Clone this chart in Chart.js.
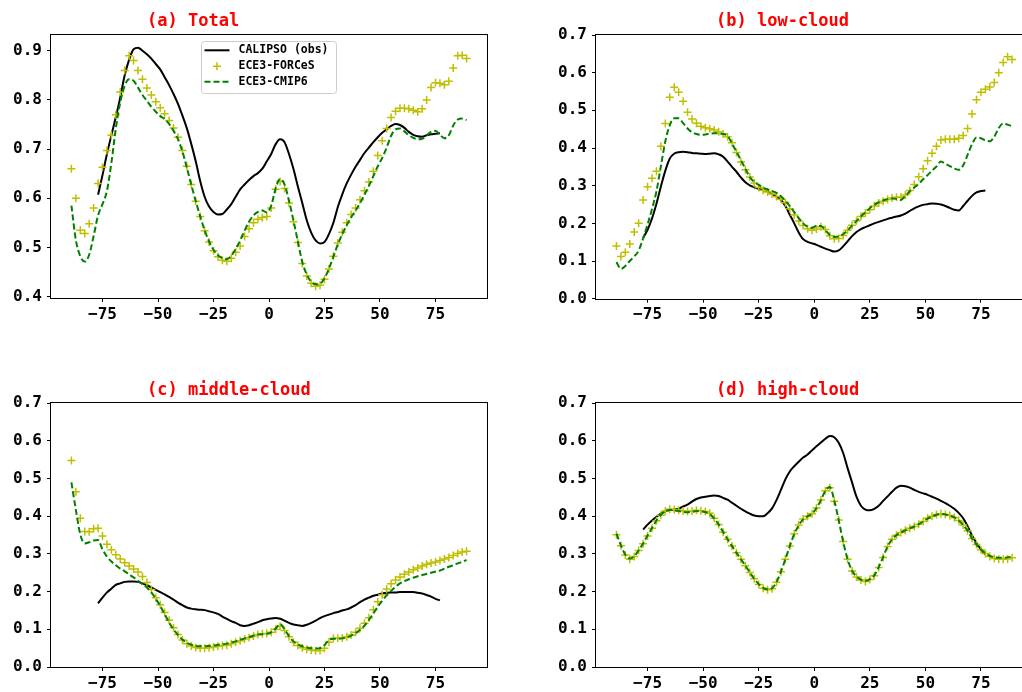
<!DOCTYPE html>
<html>
<head>
<meta charset="utf-8">
<script src="https://cdn.jsdelivr.net/npm/chart.js@4.4.1/dist/chart.umd.min.js"></script>
<style>
html, body { margin:0; padding:0; overflow:hidden; background:#fff; width:1022px; height:692px; }
canvas { position:absolute; }
</style>
</head>
<body>
<canvas id="chartA" width="511" height="345" style="left:0px;top:0px"></canvas>
<canvas id="chartB" width="540" height="345" style="left:511px;top:0px"></canvas>
<canvas id="chartC" width="511" height="345" style="left:0px;top:368px"></canvas>
<canvas id="chartD" width="540" height="345" style="left:511px;top:368px"></canvas>
<script>
// latitude grids
const latMod = [
-89,-87,-85,-83,-81,-79,-77,-75,-73,-71,
-69,-67,-65,-63,-61,-59,-57,-55,-53,-51,
-49,-47,-45,-43,-41,-39,-37,-35,-33,-31,
-29,-27,-25,-23,-21,-19,-17,-15,-13,-11,
-9,-7,-5,-3,-1,1,3,5,7,9,
11,13,15,17,19,21,23,25,27,29,
31,33,35,37,39,41,43,45,47,49,
51,53,55,57,59,61,63,65,67,69,
71,73,75,77,79,81,83,85,87,89];
const latObs = [
-77,-75,-73,-71,-69,-67,-65,-63,-61,-59,
-57,-55,-53,-51,-49,-47,-45,-43,-41,-39,
-37,-35,-33,-31,-29,-27,-25,-23,-21,-19,
-17,-15,-13,-11,-9,-7,-5,-3,-1,1,
3,5,7,9,11,13,15,17,19,21,
23,25,27,29,31,33,35,37,39,41,
43,45,47,49,51,53,55,57,59,61,
63,65,67,69,71,73,75,77];

const xTicks = [-75,-50,-25,0,25,50,75];
const yTicksTot = [0.4,0.5,0.6,0.7,0.8,0.9];
const yTicksFrac = [0.0,0.1,0.2,0.3,0.4,0.5,0.6,0.7];
const seriesNames = ['CALIPSO (obs)','ECE3-FORCeS','ECE3-CMIP6'];
const titles = ['(a) Total','(b) low-cloud','(c) middle-cloud','(d) high-cloud'];

// (a) total
const totObs = [
.607,.647,.690,.728,.765,.805,.850,.882,.903,.906,
.900,.893,.884,.873,.862,.846,.830,.812,.792,.768,
.742,.710,.675,.635,.603,.583,.572,.567,.568,.577,
.588,.603,.618,.628,.637,.645,.651,.660,.675,.690,
.710,.720,.714,.690,.660,.624,.590,.555,.530,.514,
.508,.511,.527,.550,.582,.608,.630,.648,.664,.678,
.692,.703,.714,.724,.733,.740,.747,.751,.749,.743,
.735,.729,.726,.725,.728,.730,.731,.732];
const totForces = [
.660,.600,.535,.528,.548,.580,.630,.663,.697,.728,
.770,.816,.860,.890,.880,.860,.842,.824,.810,.796,
.784,.772,.758,.743,.724,.697,.665,.628,.594,.563,
.534,.511,.493,.481,.474,.472,.478,.490,.503,.522,
.538,.550,.557,.561,.563,.580,.618,.634,.620,.590,
.552,.510,.467,.442,.427,.421,.423,.435,.456,.482,
.509,.531,.550,.567,.580,.597,.615,.633,.655,.687,
.717,.742,.764,.777,.783,.783,.782,.779,.776,.782,
.800,.825,.835,.834,.831,.838,.865,.890,.891,.884];
const totCmip6 = [
.585,.515,.482,.471,.485,.523,.565,.588,.615,.672,
.742,.795,.829,.842,.839,.825,.810,.798,.786,.776,
.767,.761,.751,.737,.720,.695,.662,.627,.594,.563,
.535,.512,.495,.484,.478,.476,.483,.497,.514,.534,
.552,.565,.572,.575,.571,.585,.620,.639,.628,.595,
.555,.512,.470,.445,.430,.425,.426,.437,.457,.481,
.506,.527,.545,.561,.575,.590,.607,.625,.645,.665,
.682,.703,.727,.740,.742,.736,.728,.723,.720,.721,
.728,.735,.737,.729,.722,.728,.748,.760,.762,.759];

// (b) low cloud
const lowObs = [
.162,.183,.213,.252,.298,.340,.372,.385,.389,.390,
.389,.387,.386,.385,.384,.385,.386,.383,.377,.364,
.350,.337,.322,.309,.301,.296,.292,.288,.285,.278,
.271,.262,.246,.223,.200,.176,.158,.151,.147,.143,
.138,.133,.129,.125,.128,.139,.152,.166,.177,.185,
.190,.195,.200,.204,.208,.212,.215,.218,.221,.226,
.233,.240,.245,.249,.251,.253,.252,.250,.246,.241,
.236,.234,.246,.260,.273,.282,.286,.287];
const lowForces = [
.140,.112,.123,.145,.177,.200,.262,.297,.320,.338,
.405,.465,.535,.561,.548,.524,.495,.477,.466,.458,
.454,.451,.448,.443,.437,.430,.414,.388,.363,.342,
.323,.307,.295,.288,.283,.278,.271,.264,.255,.239,
.222,.206,.194,.186,.182,.185,.191,.184,.167,.159,
.160,.168,.182,.195,.207,.218,.227,.236,.246,.254,
.259,.263,.267,.269,.270,.275,.287,.303,.324,.345,
.366,.386,.405,.421,.423,.423,.423,.426,.433,.452,
.490,.528,.548,.556,.562,.574,.600,.627,.642,.635];
const lowCmip6 = [
.097,.079,.087,.100,.112,.128,.160,.197,.238,.285,
.352,.418,.461,.479,.479,.466,.452,.442,.437,.435,
.436,.438,.439,.439,.437,.432,.412,.390,.368,.345,
.323,.310,.302,.295,.290,.286,.281,.272,.260,.246,
.230,.214,.200,.191,.188,.193,.193,.182,.169,.164,
.165,.171,.181,.194,.206,.218,.229,.240,.249,.256,
.261,.264,.266,.265,.262,.273,.285,.295,.305,.317,
.328,.340,.351,.364,.358,.352,.346,.342,.354,.382,
.410,.428,.426,.420,.418,.430,.453,.465,.462,.458];

// (c) middle cloud
const midObs = [
.169,.184,.198,.208,.218,.222,.226,.227,.227,.226,
.222,.217,.211,.205,.199,.193,.186,.179,.171,.164,
.158,.155,.153,.152,.151,.148,.145,.141,.134,.128,
.122,.117,.111,.109,.111,.115,.119,.124,.127,.129,
.130,.128,.123,.117,.113,.111,.109,.112,.117,.123,
.130,.135,.139,.143,.146,.150,.153,.158,.164,.172,
.179,.184,.189,.192,.195,.197,.198,.198,.199,.199,
.199,.199,.197,.195,.191,.187,.181,.177];
const midForces = [
.548,.465,.395,.360,.359,.367,.368,.348,.326,.311,
.298,.287,.277,.268,.260,.252,.240,.224,.206,.184,
.165,.145,.124,.104,.086,.072,.062,.056,.052,.050,
.050,.051,.053,.055,.057,.058,.062,.066,.070,.074,
.078,.082,.086,.088,.089,.092,.100,.108,.097,.080,
.066,.057,.051,.047,.045,.043,.044,.050,.066,.076,
.076,.077,.080,.085,.092,.103,.116,.131,.152,.173,
.192,.207,.221,.231,.239,.246,.252,.258,.263,.268,
.273,.276,.279,.283,.287,.291,.296,.301,.305,.307];
const midCmip6 = [
.490,.417,.352,.328,.331,.336,.337,.312,.293,.280,
.270,.261,.254,.246,.238,.229,.220,.211,.198,.181,
.162,.140,.118,.100,.085,.073,.064,.059,.056,.055,
.055,.056,.057,.059,.060,.062,.065,.068,.072,.076,
.079,.083,.086,.087,.088,.092,.102,.114,.100,.082,
.068,.060,.055,.052,.050,.049,.050,.058,.072,.075,
.075,.076,.078,.083,.090,.099,.110,.125,.142,.160,
.176,.190,.202,.213,.222,.228,.233,.237,.241,.244,
.247,.250,.253,.256,.261,.266,.270,.275,.279,.284];

// (d) high cloud
const highObs = [
.365,.378,.389,.399,.407,.413,.417,.418,.420,.426,
.431,.439,.446,.450,.452,.454,.455,.454,.449,.444,
.436,.428,.420,.413,.407,.402,.400,.400,.408,.421,
.443,.470,.498,.519,.533,.545,.556,.564,.575,.586,
.596,.606,.613,.610,.595,.568,.528,.490,.452,.428,
.418,.416,.420,.428,.441,.453,.465,.476,.481,.480,
.476,.470,.465,.461,.457,.452,.447,.441,.435,.428,
.420,.409,.395,.374,.349,.329,.312,.299];
const highForces = [
.351,.322,.297,.286,.293,.309,.327,.348,.368,.388,
.403,.414,.419,.418,.416,.414,.413,.414,.416,.415,
.413,.408,.395,.378,.358,.339,.321,.303,.286,.269,
.251,.234,.219,.209,.205,.208,.225,.253,.286,.321,
.354,.377,.393,.400,.407,.422,.443,.468,.476,.440,
.390,.333,.286,.255,.239,.231,.227,.232,.242,.264,
.291,.320,.339,.350,.357,.363,.368,.373,.379,.386,
.395,.400,.405,.407,.405,.402,.397,.389,.377,.362,
.341,.325,.311,.301,.293,.288,.286,.286,.287,.290];
const highCmip6 = [
.354,.323,.298,.288,.294,.310,.328,.349,.369,.389,
.404,.414,.417,.416,.414,.412,.411,.412,.414,.413,
.411,.406,.394,.378,.358,.339,.321,.303,.286,.269,
.251,.234,.220,.210,.206,.209,.225,.253,.286,.321,
.353,.376,.392,.400,.407,.422,.443,.468,.478,.442,
.390,.333,.286,.256,.240,.232,.228,.233,.243,.265,
.292,.320,.339,.350,.357,.363,.368,.373,.379,.386,
.394,.399,.404,.406,.405,.402,.397,.389,.377,.362,
.341,.325,.312,.302,.295,.291,.290,.290,.291,.293];

const monoFont = "'DejaVu Sans Mono', 'Liberation Mono', monospace";
Chart.defaults.font.family = monoFont;
Chart.defaults.font.weight = 'bold';
Chart.defaults.color = '#000';

// box around the plot area (all four spines)
const framePlug = {
  id: 'frame',
  afterDatasetsDraw(chart) {
    const a = chart.chartArea, ctx = chart.ctx;
    ctx.save();
    ctx.strokeStyle = '#000';
    ctx.lineWidth = 1;
    ctx.strokeRect(Math.round(a.left) - 0.5, Math.round(a.top) - 0.5,
      Math.round(a.right - a.left) + 1, Math.round(a.bottom - a.top) + 1);
    ctx.restore();
  }
};

// red panel title
const titlePlug = {
  id: 'panelTitle',
  afterDraw(chart, args, opts) {
    const a = chart.chartArea, ctx = chart.ctx;
    ctx.save();
    ctx.font = "bold 17px " + monoFont;
    ctx.fillStyle = '#ff0000';
    ctx.textAlign = 'left';
    ctx.textBaseline = 'middle';
    ctx.fillText(opts.text, a.left + opts.dx, a.top - 13);
    ctx.restore();
  }
};

// matplotlib style legend, upper center
const boxLegend = {
  id: 'boxLegend',
  afterDraw(chart, args, opts) {
    if (!opts.show) return;
    const ctx = chart.ctx, a = chart.chartArea;
    const sets = chart.data.datasets;
    ctx.save();
    ctx.font = "bold 11.5px " + monoFont;
    let tw = 0;
    sets.forEach((d) => { tw = Math.max(tw, ctx.measureText(d.label).width); });
    const w = 3 + 25 + 9 + tw + 8, h = 52;
    const x0 = Math.round((a.left + a.right) / 2 - w / 2) + 0.5, y0 = Math.round(a.top + 6) + 0.5;
    ctx.beginPath();
    ctx.roundRect(x0, y0, w, h, 3);
    ctx.fillStyle = 'rgba(255,255,255,0.8)';
    ctx.fill();
    ctx.strokeStyle = '#cccccc';
    ctx.lineWidth = 1;
    ctx.stroke();
    const rows = [8.8, 24.8, 40.3];
    sets.forEach((d, i) => {
      const y = y0 + rows[i];
      ctx.beginPath();
      if (d.showLine === false) {
        const cx = x0 + 15.5;
        ctx.moveTo(cx - 4, y); ctx.lineTo(cx + 4, y);
        ctx.moveTo(cx, y - 4); ctx.lineTo(cx, y + 4);
        ctx.strokeStyle = d.pointBorderColor;
        ctx.lineWidth = d.pointBorderWidth;
        ctx.setLineDash([]);
      } else {
        ctx.moveTo(x0 + 3, y); ctx.lineTo(x0 + 28, y);
        ctx.strokeStyle = d.borderColor;
        ctx.lineWidth = d.borderWidth;
        ctx.setLineDash(d.borderDash || []);
      }
      ctx.stroke();
      ctx.setLineDash([]);
      ctx.fillStyle = '#000';
      ctx.textAlign = 'left';
      ctx.textBaseline = 'middle';
      ctx.fillText(d.label, x0 + 37, y);
    });
    ctx.restore();
  }
};

function mkSets(obs, forces, cmip6) {
  return [
    {
      label: seriesNames[0],
      data: latObs.map((x, i) => ({ x: x, y: obs[i] })),
      borderColor: '#000000',
      borderWidth: 2,
      pointRadius: 0,
      cubicInterpolationMode: 'monotone',
      order: 3
    },
    {
      label: seriesNames[1],
      data: latMod.map((x, i) => ({ x: x, y: forces[i] })),
      showLine: false,
      pointStyle: 'cross',
      pointRadius: 4,
      pointBorderColor: '#bfbf00',
      pointBorderWidth: 1.5,
      order: 2
    },
    {
      label: seriesNames[2],
      data: latMod.map((x, i) => ({ x: x, y: cmip6[i] })),
      borderColor: '#008000',
      borderWidth: 2,
      borderDash: [6, 3],
      pointRadius: 0,
      cubicInterpolationMode: 'monotone',
      order: 1
    }
  ];
}

function mkChart({ elementId, sets, yMin, yMax, yTicks, title, dx, pad, legend }) {
  const ctx = document.getElementById(elementId).getContext('2d');
  const tickFont = { size: 16, weight: 'bold', family: monoFont };
  const gridOpts = { display: true, drawOnChartArea: false, drawTicks: true, tickLength: 4, tickColor: '#000', tickWidth: 1 };
  return new Chart(ctx, {
    type: 'line',
    data: { datasets: sets },
    plugins: [framePlug, titlePlug, boxLegend],
    options: {
      responsive: false,
      animation: false,
      devicePixelRatio: 1,
      events: [],
      layout: { padding: pad },
      plugins: {
        legend: { display: false },
        tooltip: { enabled: false },
        panelTitle: { text: title, dx: dx },
        boxLegend: { show: legend }
      },
      scales: {
        x: {
          type: 'linear',
          min: -98.2,
          max: 98.2,
          afterBuildTicks: (s) => { s.ticks = xTicks.map((v) => ({ value: v })); },
          afterFit: (s) => { s.height = 30; },
          grid: gridOpts,
          border: { display: false },
          ticks: {
            padding: 3, color: '#000', font: tickFont, maxRotation: 0, autoSkip: false,
            callback: (v) => String(v).replace('-', '\u2212')
          }
        },
        y: {
          type: 'linear',
          min: yMin,
          max: yMax,
          afterBuildTicks: (s) => { s.ticks = yTicks.map((v) => ({ value: v })); },
          afterFit: (s) => { s.width = 45; },
          grid: gridOpts,
          border: { display: false },
          ticks: {
            padding: 5, color: '#000', font: tickFont, autoSkip: false,
            callback: (v) => Number(v).toFixed(1)
          }
        }
      }
    }
  });
}

mkChart({
  elementId: 'chartA', sets: mkSets(totObs, totForces, totCmip6),
  yMin: 0.397, yMax: 0.932, yTicks: yTicksTot, title: titles[0], dx: 96,
  pad: { left: 6, top: 35, right: 24, bottom: 17 }, legend: true
});
mkChart({
  elementId: 'chartB', sets: mkSets(lowObs, lowForces, lowCmip6),
  yMin: 0, yMax: 0.7, yTicks: yTicksFrac, title: titles[1], dx: 120,
  pad: { left: 40, top: 35, right: 18.5, bottom: 16.3 }, legend: false
});
mkChart({
  elementId: 'chartC', sets: mkSets(midObs, midForces, midCmip6),
  yMin: 0, yMax: 0.7, yTicks: yTicksFrac, title: titles[2], dx: 96,
  pad: { left: 6, top: 35.3, right: 24, bottom: 16 }, legend: false
});
mkChart({
  elementId: 'chartD', sets: mkSets(highObs, highForces, highCmip6),
  yMin: 0, yMax: 0.7, yTicks: yTicksFrac, title: titles[3], dx: 120,
  pad: { left: 40, top: 35.3, right: 18.5, bottom: 16 }, legend: false
});
</script>
</body>
</html>
